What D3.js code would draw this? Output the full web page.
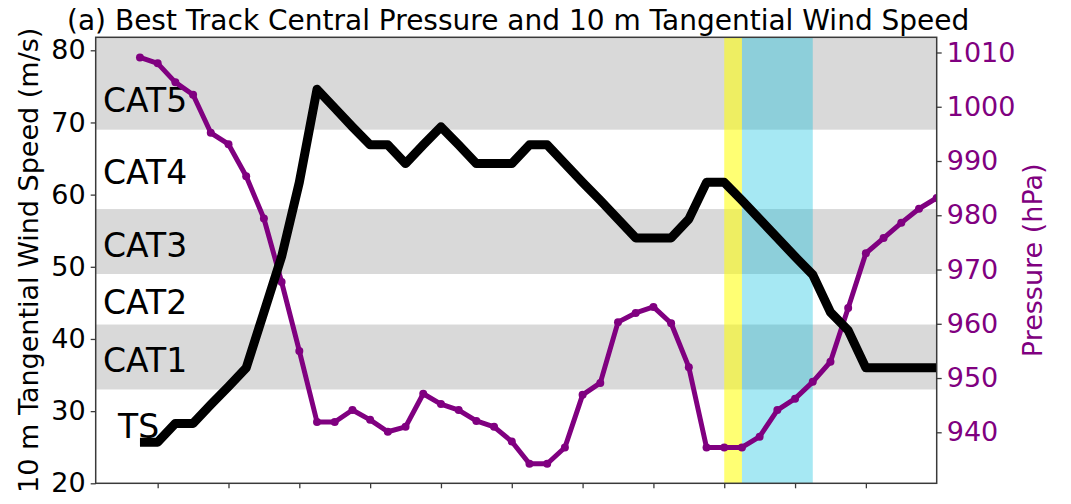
<!DOCTYPE html>
<html>
<head>
<meta charset="utf-8">
<script src="https://cdn.jsdelivr.net/npm/d3@7"></script>
<style>
  html, body { margin: 0; padding: 0; background: #fff; }
  svg { display: block; font-family: "DejaVu Sans", sans-serif; }
</style>
</head>
<body>
<svg id="chart" width="1071" height="504"></svg>
<script>
// 6-hourly best-track record: 10 m tangential wind (m/s) and central pressure (hPa)
const windSpeed = [
  25.7, 25.7, 28.3, 28.3, 30.9, 33.4, 36.0, 43.7, 51.4, 61.7,
  74.6, 72.0, 69.4, 66.9, 66.9, 64.3, 66.9, 69.4, 66.9, 64.3,
  64.3, 64.3, 66.9, 66.9, 64.3, 61.7, 59.2, 56.6, 54.0, 54.0,
  54.0, 56.6, 61.7, 61.7, 59.2, 56.6, 54.0, 51.4, 48.9, 43.7,
  41.2, 36.0, 36.0, 36.0, 36.0, 36.0
];
const pressure = [
  1009.1, 1008.0, 1004.5, 1002.2, 995.2, 993.1, 987.2, 979.4, 967.7, 955.0,
  941.9, 941.9, 944.1, 942.3, 940.1, 941.0, 947.1, 945.2, 944.1, 942.1,
  941.0, 938.3, 934.2, 934.2, 937.2, 946.9, 949.1, 960.3, 962.0, 963.1,
  960.1, 952.0, 937.2, 937.2, 937.2, 939.2, 944.1, 946.2, 949.3, 953.0,
  962.9, 973.0, 975.8, 978.6, 981.2, 983.2
];

// Saffir-Simpson category bands (m/s)
const categoryNames = ["CAT5", "CAT4", "CAT3", "CAT2", "CAT1", "TS"];
const categoryLow   = [69, 58, 49, 42, 33, 20];
const categoryHigh  = [81.8, 69, 58, 49, 42, 33];
const categoryShaded = [true, false, true, false, true, false];
const categoryLabelLevel = [71.5, 61.5, 51.4, 43.5, 35.4, 26.3];

// highlighted periods (time-step index)
const yellowSpan = [33, 34];
const cyanSpan = [34, 38];

// axis ticks
const windTicks = [20, 30, 40, 50, 60, 70, 80];
const pressureTicks = [940, 950, 960, 970, 980, 990, 1000, 1010];
const timeTicks = [1, 5, 9, 13, 17, 21, 25, 29, 33, 37, 41];

// layout
const plot = { left: 95.7, right: 936.7, top: 37.3, bottom: 483.3 };
const purple = "#800080";
const axisColor = "#3a3a3a";

const svg = d3.select("#chart");

const x = d3.scaleLinear().domain([-2.5, 45]).range([plot.left, plot.right]);
const yWind = d3.scaleLinear().domain([20, 81.8]).range([plot.bottom, plot.top]);
const yPres = d3.scaleLinear().domain([930.6, 1012.8]).range([plot.bottom, plot.top]);

svg.append("defs").append("clipPath").attr("id", "plotClip")
  .append("rect")
  .attr("x", plot.left).attr("y", plot.top)
  .attr("width", plot.right - plot.left).attr("height", plot.bottom - plot.top);

const body = svg.append("g").attr("clip-path", "url(#plotClip)");

// category shading
body.selectAll("rect.band")
  .data(categoryNames.map((n, i) => ({ n, lo: categoryLow[i], hi: categoryHigh[i], shade: categoryShaded[i] }))
    .filter(d => d.shade))
  .join("rect")
  .attr("class", "band")
  .attr("x", plot.left)
  .attr("width", plot.right - plot.left)
  .attr("y", d => yWind(d.hi))
  .attr("height", d => yWind(d.lo) - yWind(d.hi))
  .attr("fill", "#d9d9d9");

// highlighted periods
body.append("rect")
  .attr("x", x(yellowSpan[0])).attr("width", x(yellowSpan[1]) - x(yellowSpan[0]))
  .attr("y", plot.top).attr("height", plot.bottom - plot.top)
  .attr("fill", "#ffff00").attr("fill-opacity", 0.55);
body.append("rect")
  .attr("x", x(cyanSpan[0])).attr("width", x(cyanSpan[1]) - x(cyanSpan[0]))
  .attr("y", plot.top).attr("height", plot.bottom - plot.top)
  .attr("fill", "#00bedc").attr("fill-opacity", 0.35);

// category labels
body.selectAll("text.cat")
  .data(categoryNames)
  .join("text")
  .attr("class", "cat")
  .attr("x", d => d === "TS" ? 118 : 103)
  .attr("y", (d, i) => yWind(categoryLabelLevel[i]))
  .attr("font-size", 33)
  .attr("fill", "#000")
  .text(d => d);

// pressure line with markers
const presLine = d3.line().x((d, i) => x(i)).y(d => yPres(d));
body.append("path")
  .datum(pressure)
  .attr("d", presLine)
  .attr("fill", "none")
  .attr("stroke", purple)
  .attr("stroke-width", 5)
  .attr("stroke-linejoin", "round");
body.selectAll("circle.pres")
  .data(pressure)
  .join("circle")
  .attr("class", "pres")
  .attr("cx", (d, i) => x(i))
  .attr("cy", d => yPres(d))
  .attr("r", 4)
  .attr("fill", purple);

// wind line
const windLine = d3.line().x((d, i) => x(i)).y(d => yWind(d));
body.append("path")
  .datum(windSpeed)
  .attr("d", windLine)
  .attr("fill", "none")
  .attr("stroke", "#000")
  .attr("stroke-width", 9)
  .attr("stroke-linejoin", "round")
  .attr("stroke-linecap", "butt");

// frame
svg.append("rect")
  .attr("x", plot.left).attr("y", plot.top)
  .attr("width", plot.right - plot.left).attr("height", plot.bottom - plot.top)
  .attr("fill", "none").attr("stroke", axisColor).attr("stroke-width", 1.5);

function styleAxis(g, labelColor) {
  g.select(".domain").remove();
  g.selectAll(".tick line").attr("stroke", axisColor).attr("stroke-width", 1.3);
  g.selectAll(".tick text").attr("fill", labelColor).attr("font-size", 27)
    .attr("font-family", "DejaVu Sans, sans-serif");
}

svg.append("g")
  .attr("transform", `translate(${plot.left},0)`)
  .call(d3.axisLeft(yWind).tickValues(windTicks).tickFormat(d3.format("d"))
    .tickSize(5).tickPadding(5).tickSizeOuter(0))
  .call(g => styleAxis(g, "#000"));

svg.append("g")
  .attr("transform", `translate(${plot.right},0)`)
  .call(d3.axisRight(yPres).tickValues(pressureTicks).tickFormat(d3.format("d"))
    .tickSize(5).tickPadding(5).tickSizeOuter(0))
  .call(g => styleAxis(g, purple));

svg.append("g")
  .attr("transform", `translate(0,${plot.bottom})`)
  .call(d3.axisBottom(x).tickValues(timeTicks).tickSize(5).tickFormat("").tickSizeOuter(0))
  .call(g => styleAxis(g, "#000"));

// axis titles
svg.append("text")
  .attr("transform", `translate(38,${(plot.top + plot.bottom) / 2}) rotate(-90)`)
  .attr("text-anchor", "middle")
  .attr("font-size", 27)
  .attr("fill", "#000")
  .text("10 m Tangential Wind Speed (m/s)");

svg.append("text")
  .attr("transform", `translate(1042,${(plot.top + plot.bottom) / 2}) rotate(-90)`)
  .attr("text-anchor", "middle")
  .attr("font-size", 27)
  .attr("fill", purple)
  .text("Pressure (hPa)");

// title
svg.append("text")
  .attr("x", (plot.left + plot.right) / 2 + 2)
  .attr("y", 30)
  .attr("text-anchor", "middle")
  .attr("font-size", 28)
  .attr("fill", "#000")
  .text("(a) Best Track Central Pressure and 10 m Tangential Wind Speed");
</script>
</body>
</html>
